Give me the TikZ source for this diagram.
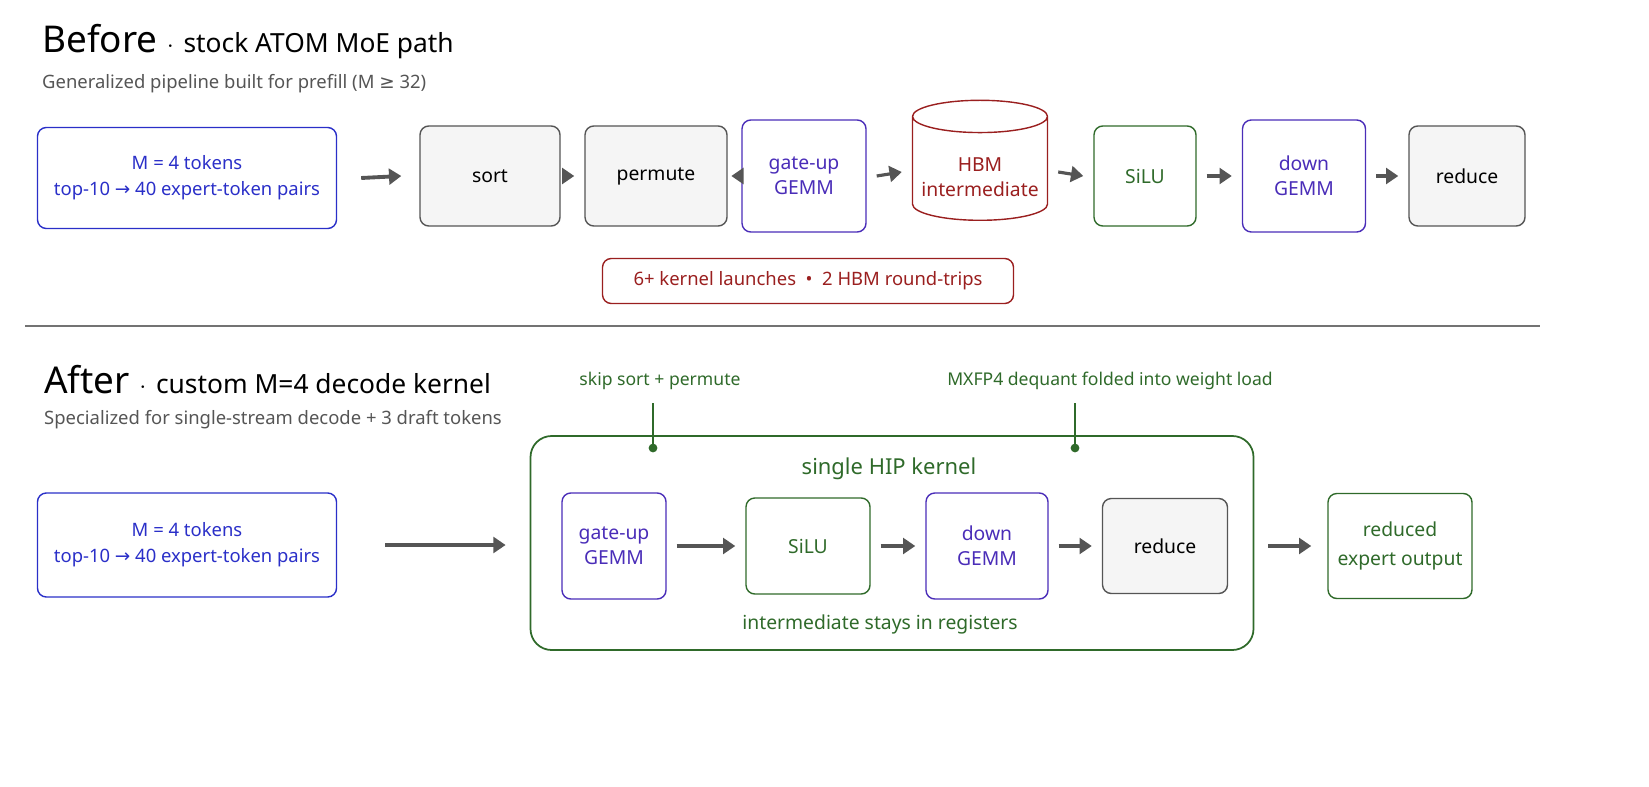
\documentclass[tikz,border=0pt]{standalone}
\usepackage{fontspec}
\setmainfont{Noto Sans}
\newfontfamily\symfont{DejaVu Sans}
\usetikzlibrary{positioning,shapes.geometric,arrows.meta}
\definecolor{tblue}{HTML}{2A2FC8}
\definecolor{gblue}{HTML}{4A2DB8}
\definecolor{tgreen}{HTML}{2F6A2A}
\definecolor{tred}{HTML}{9A1F1F}
\definecolor{tgray}{HTML}{555555}
\newcommand{\rarr}{{\symfont\char"2192}}
\newcommand{\geqsym}{{\symfont\char"2265}}
\tikzset{
  box/.style={draw, rounded corners=5pt, line width=0.8pt, align=center, font=\bfseries\fontsize{11}{14}\selectfont},
  plain/.style={box, draw=tgray, fill=black!4, text=black},
  bluebox/.style={box, draw=gblue, text=gblue},
  greenbox/.style={box, draw=tgreen, text=tgreen},
  inbox/.style={draw=tblue, rounded corners=5pt, line width=0.8pt, align=center, text=tblue, font=\fontsize{10.5}{15}\selectfont},
  arr/.style={-{Triangle[length=7pt,width=9pt]}, line width=2.2pt, draw=tgray},
  note/.style={font=\fontsize{10}{12}\selectfont, text=tgreen}
}
\begin{document}
\begin{tikzpicture}[x=0.02cm, y=-0.02cm]
\useasboundingbox (0,0) rectangle (1649,787);
% before
\node[anchor=west, font=\bfseries\fontsize{21}{24}\selectfont] (t1) at (36,42) {Before {\fontsize{14}{14}\selectfont$\cdot$} {\fontsize{15}{18}\selectfont stock ATOM MoE path}};
\node[anchor=west, text=tgray, font=\fontsize{10.5}{13}\selectfont] (s1) at (36,84) {Generalized pipeline built for prefill (M \geqsym{} 32)};
\node[inbox, minimum width=299*0.02cm, minimum height=101*0.02cm] (m1) at (187,178) {\textbf{M = 4 tokens}\\top-10 \rarr{} 40 expert-token pairs};
\node[plain, minimum width=140*0.02cm, minimum height=100*0.02cm] (sort) at (490,176) {sort};
\node[plain, minimum width=142*0.02cm, minimum height=100*0.02cm] (perm) at (656,176) {permute};
\node[bluebox, minimum width=124*0.02cm, minimum height=112*0.02cm] (gu1) at (804,176) {gate-up\\GEMM};
\node[cylinder, shape border rotate=90, aspect=0.25, draw=tred, line width=0.8pt, text=tred, align=center, font=\bfseries\fontsize{11}{14}\selectfont, minimum width=135*0.02cm, minimum height=120*0.02cm] (hbm) at (980,172) {\\HBM\\intermediate};
\node[greenbox, minimum width=102*0.02cm, minimum height=100*0.02cm] (silu1) at (1145,176) {SiLU};
\node[bluebox, minimum width=123*0.02cm, minimum height=112*0.02cm] (dn1) at (1304,176) {down\\GEMM};
\node[plain, minimum width=116*0.02cm, minimum height=100*0.02cm] (red1) at (1467,176) {reduce};
\draw[arr] ([xshift=24*0.02cm]m1.east) -- ([xshift=-18*0.02cm]sort.west);
\foreach \a/\b in {sort/perm, perm/gu1, gu1/hbm, hbm/silu1, silu1/dn1, dn1/red1}
  \draw[arr, line width=1.8pt] ([xshift=10*0.02cm]\a.east) -- ([xshift=-10*0.02cm]\b.west);
\node[draw=tred, rounded corners=5pt, line width=0.8pt, text=tred, font=\fontsize{10.5}{13}\selectfont, minimum width=411*0.02cm, minimum height=45*0.02cm] (cost) at (808,281) {6+ kernel launches \ \textbullet\ \ 2 HBM round-trips};
\draw[black!55, line width=0.6pt] (25,326) coordinate (d1) -- (1540,326) coordinate (d2);
% after
\node[anchor=west, font=\bfseries\fontsize{21}{24}\selectfont] (t2) at (38,380) {After {\fontsize{14}{14}\selectfont$\cdot$} {\fontsize{15}{18}\selectfont custom M=4 decode kernel}};
\node[anchor=west, text=tgray, font=\fontsize{10.5}{13}\selectfont] (s2) at (38,420) {Specialized for single-stream decode + 3 draft tokens};
\node[draw=tgreen, rounded corners=12pt, line width=1pt, minimum width=723*0.02cm, minimum height=214*0.02cm] (kern) at (892,543) {};
\node[text=tgreen, font=\bfseries\fontsize{12.5}{15}\selectfont] (kt) at (889,469) {single HIP kernel};
\node[inbox, minimum width=299*0.02cm, minimum height=104*0.02cm] (m2) at (187,545) {\textbf{M = 4 tokens}\\top-10 \rarr{} 40 expert-token pairs};
\node[bluebox, minimum width=104*0.02cm, minimum height=106*0.02cm] (gu2) at (614,546) {gate-up\\GEMM};
\node[greenbox, minimum width=124*0.02cm, minimum height=96*0.02cm] (silu2) at (808,546) {SiLU};
\node[bluebox, minimum width=122*0.02cm, minimum height=106*0.02cm] (dn2) at (987,546) {down\\GEMM};
\node[plain, minimum width=125*0.02cm, minimum height=95*0.02cm] (red2) at (1165,546) {reduce};
\node[box, draw=tgreen, text=tgreen, font=\fontsize{11}{17}\selectfont, minimum width=144*0.02cm, minimum height=105*0.02cm] (out) at (1400,546) {reduced\\expert output};
\node[note, font=\fontsize{11}{13}\selectfont] (reg) at (880,624) {intermediate stays in registers};
\draw[arr] ([xshift=48*0.02cm]m2.east) -- ([xshift=-24*0.02cm]kern.west |- m2.east);
\foreach \a/\b in {gu2/silu2, silu2/dn2, dn2/red2}
  \draw[arr, line width=1.8pt] ([xshift=10*0.02cm]\a.east) -- ([xshift=-10*0.02cm]\b.west);
\draw[arr] ([xshift=40*0.02cm]red2.east) -- ([xshift=-16*0.02cm]out.west);
\node[note] (skip) at (660,381) {skip sort + permute};
\node[note] (mx) at (1110,381) {MXFP4 dequant folded into weight load};
\coordinate (sk) at (653,448);
\coordinate (mk) at (1075,448);
\draw[tgreen, line width=0.8pt] (653,403) -- (sk);
\fill[tgreen] (sk) circle (2.5pt);
\draw[tgreen, line width=0.8pt] (1075,403) -- (mk);
\fill[tgreen] (mk) circle (2.5pt);
\end{tikzpicture}
\end{document}
